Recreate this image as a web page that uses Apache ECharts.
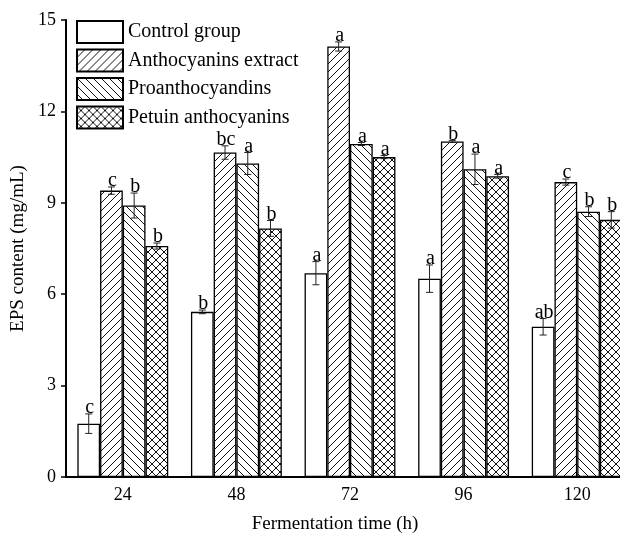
<!DOCTYPE html>
<html>
<head>
<meta charset="utf-8">
<script src="https://cdn.jsdelivr.net/npm/echarts@6/dist/echarts.min.js"></script>
<style>
  html, body { margin: 0; padding: 0; background: #fff; }
  #chart { width: 620px; height: 539px; }
</style>
</head>
<body>
<div id="chart"></div>
<script>
const times = ['24', '48', '72', '96', '120'];
const groups = ['Control group', 'Anthocyanins extract', 'Proanthocyandins', 'Petuin anthocyanins'];

// mean EPS content (mg/mL)
const control = [1.75, 5.42, 6.69, 6.51, 4.93];
const anthoExtract = [9.40, 10.65, 14.13, 11.01, 9.68];
const proantho = [8.91, 10.29, 10.93, 10.10, 8.71];
const petuin = [7.58, 8.16, 10.50, 9.87, 8.44];

// error (+/-)
const controlErr = [0.32, 0.06, 0.38, 0.45, 0.27];
const anthoExtractErr = [0.12, 0.22, 0.15, 0.03, 0.10];
const proanthoErr = [0.41, 0.36, 0.05, 0.50, 0.16];
const petuinErr = [0.10, 0.26, 0.05, 0.06, 0.27];

// significance letters
const controlSig = ['c', 'b', 'a', 'a', 'ab'];
const anthoExtractSig = ['c', 'bc', 'a', 'b', 'c'];
const proanthoSig = ['b', 'a', 'a', 'a', 'b'];
const petuinSig = ['b', 'b', 'a', 'a', 'b'];

const yTicks = [0, 3, 6, 9, 12, 15];

const means = [control, anthoExtract, proantho, petuin];
const errs = [controlErr, anthoExtractErr, proanthoErr, petuinErr];
const sigs = [controlSig, anthoExtractSig, proanthoSig, petuinSig];

const serif = 'Liberation Serif';

// hatch tiles
function hatch(kind) {
  const s = 8;
  const c = document.createElement('canvas');
  c.width = s; c.height = s;
  const ctx = c.getContext('2d');
  ctx.fillStyle = '#fff';
  ctx.fillRect(0, 0, s, s);
  ctx.strokeStyle = '#111';
  ctx.lineWidth = 1;
  ctx.beginPath();
  if (kind === 'fwd' || kind === 'cross') {
    ctx.moveTo(0, s); ctx.lineTo(s, 0);
    ctx.moveTo(-1, 1); ctx.lineTo(1, -1);
    ctx.moveTo(s - 1, s + 1); ctx.lineTo(s + 1, s - 1);
  }
  if (kind === 'back' || kind === 'cross') {
    ctx.moveTo(0, 0); ctx.lineTo(s, s);
    ctx.moveTo(-1, s - 1); ctx.lineTo(1, s + 1);
    ctx.moveTo(s - 1, -1); ctx.lineTo(s + 1, 1);
  }
  ctx.stroke();
  return c;
}

const fills = [
  '#ffffff',
  { image: hatch('fwd'), repeat: 'repeat' },
  { image: hatch('back'), repeat: 'repeat' },
  { image: hatch('cross'), repeat: 'repeat' }
];

const barSeries = groups.map((name, i) => ({
  name: name,
  type: 'bar',
  data: means[i],
  barGap: 0,
  barCategoryGap: '20%',
  itemStyle: { color: fills[i], borderColor: '#000', borderWidth: 1.3 },
  z: 2
}));

const errData = [];
for (let s = 0; s < 4; s++) {
  for (let c = 0; c < times.length; c++) errData.push([c, s]);
}

const errSeries = {
  type: 'custom',
  data: errData,
  z: 5,
  silent: true,
  renderItem: function (params, api) {
    const c = api.value(0);
    const s = api.value(1);
    const m = means[s][c], e = errs[s][c];
    const band = api.size([1, 0])[0];
    const bw = band * 0.8 / 4;
    const x = api.coord([c, m])[0] + (s - 1.5) * bw;
    const yt = api.coord([c, m + e])[1];
    const yb = api.coord([c, m - e])[1];
    const cap = 3.5;
    const st = { stroke: '#222', lineWidth: 1 };
    return {
      type: 'group',
      children: [
        { type: 'line', shape: { x1: x, y1: yt, x2: x, y2: yb }, style: st },
        { type: 'line', shape: { x1: x - cap, y1: yt, x2: x + cap, y2: yt }, style: st },
        { type: 'line', shape: { x1: x - cap, y1: yb, x2: x + cap, y2: yb }, style: st },
        {
          type: 'text',
          x: x + 1, y: yt + 4,
          style: {
            text: sigs[s][c], fill: '#000', font: '20px ' + serif,
            align: 'center', verticalAlign: 'bottom'
          }
        }
      ]
    };
  }
};

const chart = echarts.init(document.getElementById('chart'));
chart.setOption({
  animation: false,
  backgroundColor: '#fff',
  textStyle: { fontFamily: serif, color: '#000' },
  grid: { left: 66, right: -14, top: 20, bottom: 62, outerBoundsMode: 'none' },
  legend: {
    data: groups,
    orient: 'vertical',
    left: 71,
    top: 15,
    icon: 'rect',
    itemWidth: 46,
    itemHeight: 22,
    itemGap: 4.5,
    textStyle: { fontFamily: serif, fontSize: 20, color: '#000', lineHeight: 22 }
  },
  xAxis: {
    type: 'category',
    data: times,
    name: 'Fermentation time (h)',
    nameLocation: 'middle',
    nameGap: 38,
    nameTextStyle: { fontFamily: serif, fontSize: 19, color: '#000', padding: [0, 30, 0, 0] },
    axisLine: { lineStyle: { color: '#000', width: 2 } },
    axisTick: { inside: true, alignWithLabel: true, length: 4, lineStyle: { color: '#000', width: 1 } },
    axisLabel: { fontFamily: serif, fontSize: 18, color: '#000', margin: 9 }
  },
  yAxis: {
    type: 'value',
    min: yTicks[0],
    max: yTicks[yTicks.length - 1],
    interval: 3,
    name: 'EPS content (mg/mL)',
    nameLocation: 'middle',
    nameGap: 35,
    nameTextStyle: { fontFamily: serif, fontSize: 19, color: '#000' },
    splitLine: { show: false },
    axisLine: { show: true, lineStyle: { color: '#000', width: 2 } },
    axisTick: { show: true, length: 5, lineStyle: { color: '#000', width: 1.5 } },
    axisLabel: { fontFamily: serif, fontSize: 18, color: '#000', margin: 10 }
  },
  series: barSeries.concat([errSeries])
});
</script>
</body>
</html>
